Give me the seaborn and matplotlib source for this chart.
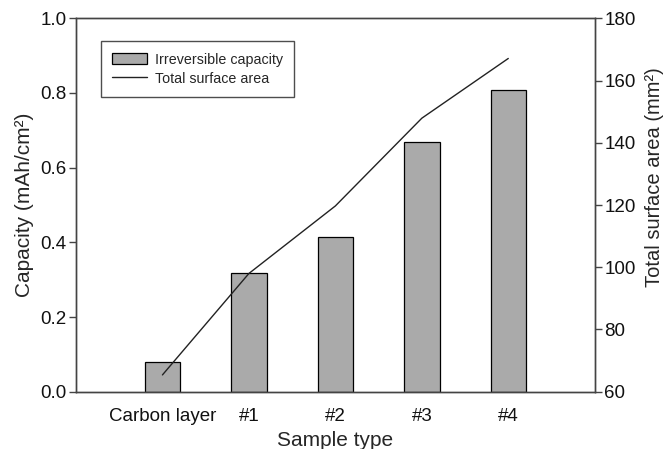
import matplotlib
matplotlib.use("Agg")
import matplotlib.pyplot as plt
import seaborn as sns
import numpy as np
import pandas as pd
from matplotlib.patches import Patch
from matplotlib.lines import Line2D

categories = ["Carbon layer", "#1", "#2", "#3", "#4"]
irreversible_capacity = [0.079, 0.318, 0.413, 0.669, 0.808]
total_surface_area = [65.4, 98.0, 119.7, 147.9, 167.1]

sns.set_theme(style="white")
plt.rcParams["font.family"] = ["Liberation Sans", "DejaVu Sans"]

df = pd.DataFrame({"cat": categories, "cap": irreversible_capacity,
                   "area": total_surface_area, "pos": np.arange(len(categories))})

fig = plt.figure(figsize=(6.66, 4.49), dpi=100)
ax = fig.add_axes([0.1141, 0.1276, 0.893 - 0.1141, 0.9592 - 0.1276])

sns.barplot(data=df, x="pos", y="cap", ax=ax, color="#aaaaaa", edgecolor="black",
            linewidth=0.9, width=0.41, saturation=1, native_scale=True)
ax.set_xlim(-1, 5)
ax.set_ylim(0, 1.0)
ax.set_xticks(df["pos"])
ax.set_xticklabels(categories)
ax.set_yticks(np.arange(0, 1.01, 0.2))
ax.set_yticklabels([f"{v:.1f}" for v in np.arange(0, 1.01, 0.2)])
ax.set_xlabel("Sample type", fontsize=15, labelpad=4)
ax.set_ylabel("Capacity (mAh/cm²)", fontsize=15, labelpad=4)

ax2 = ax.twinx()
sns.lineplot(data=df, x="pos", y="area", ax=ax2, color="#222222", linewidth=1.0)
ax2.set_ylim(60, 180)
ax2.set_yticks(np.arange(60, 181, 20))
ax2.set_ylabel("Total surface area (mm²)", fontsize=14.5)
ax2.yaxis.set_label_coords(1.097, 0.574)
ax2.set_xlim(-1, 5)

for a in (ax, ax2):
    for s in a.spines.values():
        s.set_color("#444444")
        s.set_linewidth(1.0)
    a.tick_params(axis="both", direction="out", length=5, width=1.0, color="#444444",
                  labelsize=13.5, labelcolor="#111111", pad=2)
ax.tick_params(axis="x", pad=7)

handles = [Patch(facecolor="#aaaaaa", edgecolor="black", linewidth=0.9, label="Irreversible capacity"),
           Line2D([0], [0], color="#222222", linewidth=1.0, label="Total surface area")]
leg = ax.legend(handles=handles, loc="upper left", bbox_to_anchor=(0.048, 0.939),
                fontsize=10.3, frameon=True, fancybox=False, edgecolor="#222222",
                borderpad=0.8, handlelength=2.4, handleheight=0.8, handletextpad=0.55,
                labelspacing=0.35, borderaxespad=0)
leg.get_frame().set_linewidth(1.0)
if ax2.get_legend() is not None:
    ax2.get_legend().remove()

fig.savefig("out.png", dpi=100)
